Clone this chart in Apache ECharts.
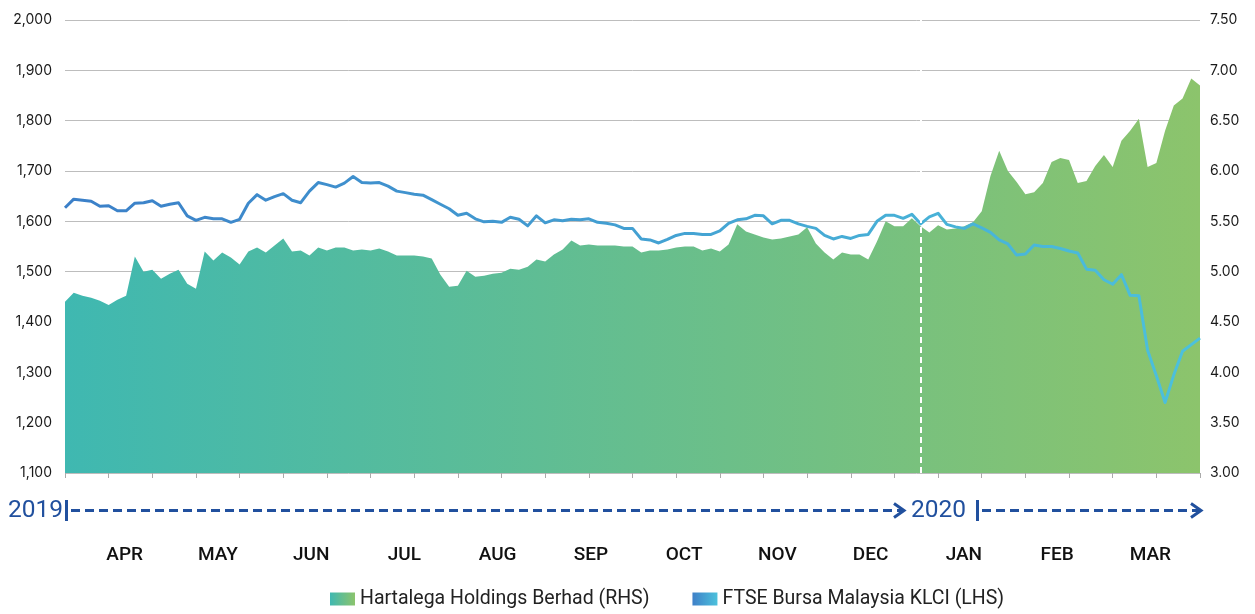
<!DOCTYPE html>
<html>
<head>
<meta charset="utf-8">
<script src="https://cdn.jsdelivr.net/npm/echarts@6/dist/echarts.min.js"></script>
<style>html,body{margin:0;padding:0;background:#fff}#c{width:1255px;height:614px}</style>
</head>
<body>
<div id="c"></div>
<script>
const months = ['APR','MAY','JUN','JUL','AUG','SEP','OCT','NOV','DEC','JAN','FEB','MAR'];
const years = ['2019','2020'];
const seriesNames = ['Hartalega Holdings Berhad (RHS)','FTSE Bursa Malaysia KLCI (LHS)'];

const klci = [
1627,1644,1642,1640,1630,1631,1621,1621,1636,1637,
1641,1630,1634,1637,1611,1602,1608,1605,1605,1598,
1604,1636,1653,1642,1649,1655,1642,1637,1660,1677,
1673,1668,1676,1689,1677,1676,1677,1670,1660,1657,
1654,1652,1643,1634,1625,1612,1616,1605,1599,1600,
1598,1608,1604,1591,1611,1597,1603,1601,1604,1603,
1605,1598,1596,1593,1586,1586,1565,1563,1557,1564,
1572,1576,1576,1574,1574,1581,1596,1603,1605,1612,
1611,1595,1602,1602,1595,1590,1586,1572,1565,1570,
1566,1572,1574,1600,1612,1612,1606,1614,1595,1609,
1616,1594,1589,1586,1595,1587,1578,1563,1555,1533,
1535,1553,1550,1550,1546,1541,1537,1505,1503,1484,
1475,1494,1453,1452,1344,1293,1240,1295,1342,1355,
1368
];

const hartalega = [
4.70,4.79,4.76,4.74,4.71,4.67,4.72,4.76,5.15,5.00,
5.02,4.93,4.98,5.02,4.88,4.83,5.20,5.11,5.19,5.14,
5.07,5.20,5.24,5.19,5.26,5.33,5.20,5.21,5.16,5.24,
5.21,5.24,5.24,5.21,5.22,5.21,5.23,5.20,5.16,5.16,
5.16,5.15,5.13,4.97,4.85,4.86,5.01,4.95,4.96,4.98,
4.99,5.03,5.02,5.05,5.12,5.10,5.17,5.22,5.31,5.26,
5.27,5.26,5.26,5.26,5.25,5.25,5.19,5.21,5.21,5.22,
5.24,5.25,5.25,5.21,5.23,5.20,5.27,5.47,5.40,5.37,
5.34,5.32,5.33,5.35,5.37,5.44,5.28,5.19,5.12,5.19,
5.17,5.17,5.12,5.30,5.50,5.45,5.45,5.53,5.45,5.39,
5.46,5.42,5.43,5.45,5.49,5.60,5.95,6.20,6.00,5.89,
5.77,5.79,5.88,6.09,6.13,6.11,5.88,5.90,6.05,6.16,
6.04,6.30,6.40,6.52,6.04,6.08,6.40,6.65,6.72,6.92,
6.85
];

const days = klci.map((_, i) => String(i));
const yearStartIndex = '98';

const blue = '#21509e';
const areaGrad = new echarts.graphic.LinearGradient(0, 0, 1, 0, [
  {offset: 0, color: '#3fb8b1'}, {offset: 1, color: '#8cc46c'}
]);
const lineGrad = new echarts.graphic.LinearGradient(0, 0, 1, 0, [
  {offset: 0, color: '#3b7fc8'}, {offset: 1, color: '#4cc1dc'}
]);
const legendAreaGrad = new echarts.graphic.LinearGradient(0, 0, 1, 0, [
  {offset: 0, color: '#3fb8b1'}, {offset: 1, color: '#8cc46c'}
]);
const legendLineGrad = new echarts.graphic.LinearGradient(0, 0, 1, 0, [
  {offset: 0, color: '#3f80c8'}, {offset: 1, color: '#4cc1dc'}
]);

const chart = echarts.init(document.getElementById('c'), null, {renderer: 'canvas'});
const option = {
  animation: false,
  backgroundColor: '#fff',
  grid: [
    {left: 65, right: 55, top: 20, bottom: 141},
    {left: 78, right: 58, top: 530, height: 6}
  ],
  xAxis: [
    {
      type: 'category', gridIndex: 0, data: days, boundaryGap: false,
      axisLine: {show: false},
      axisTick: {show: true, interval: 4, length: 5, lineStyle: {color: '#aaaaaa', width: 1}},
      axisLabel: {show: false},
      splitLine: {show: false}
    },
    {
      type: 'category', gridIndex: 1, data: months, boundaryGap: true,
      axisLine: {show: false}, axisTick: {show: false},
      axisLabel: {margin: 10, fontSize: 19, fontWeight: 500, fontFamily: 'Roboto', color: '#111'}
    }
  ],
  yAxis: [
    {
      type: 'value', gridIndex: 0, position: 'left', min: 1100, max: 2000, interval: 100,
      axisLine: {show: false}, axisTick: {show: false},
      axisLabel: {margin: 13, fontSize: 14, fontFamily: 'Inter', color: '#1a1a1a',
        formatter: v => v.toLocaleString('en-US')},
      splitLine: {show: true, lineStyle: {color: '#bdbdbd', width: 1}}
    },
    {
      type: 'value', gridIndex: 0, position: 'right', min: 3, max: 7.5, interval: 0.5,
      axisLine: {show: false}, axisTick: {show: false},
      axisLabel: {margin: 10, fontSize: 14, fontFamily: 'Inter', color: '#1a1a1a',
        formatter: v => v.toFixed(2)},
      splitLine: {show: false}
    },
    {type: 'value', gridIndex: 1, show: false, min: 0, max: 1}
  ],
  legend: {
    left: 330, top: 589, padding: 0, itemWidth: 25, itemHeight: 13, itemGap: 43, icon: 'rect',
    textStyle: {fontSize: 19.5, fontFamily: 'Roboto', color: '#222'},
    data: [
      {name: seriesNames[0], itemStyle: {color: legendAreaGrad}},
      {name: seriesNames[1], itemStyle: {color: legendLineGrad}}
    ]
  },
  series: [
    {
      name: seriesNames[0], type: 'line', xAxisIndex: 0, yAxisIndex: 1,
      data: hartalega, symbol: 'none', smooth: false,
      lineStyle: {width: 0},
      itemStyle: {color: areaGrad},
      areaStyle: {color: areaGrad, opacity: 1},
      markLine: {
        silent: true, symbol: 'none', label: {show: false},
        lineStyle: {color: '#ffffff', width: 2, type: [6, 4]},
        data: [{xAxis: yearStartIndex}]
      },
      z: 2
    },
    {
      name: seriesNames[1], type: 'line', xAxisIndex: 0, yAxisIndex: 0,
      data: klci, symbol: 'none', smooth: false,
      lineStyle: {width: 3, color: lineGrad, join: 'round'},
      itemStyle: {color: lineGrad},
      z: 3
    }
  ],
  graphic: [
    {type: 'text', x: 8, y: 511, style: {text: years[0], fontSize: 24.5, fontFamily: 'Roboto', fill: blue, verticalAlign: 'middle', align: 'left'}},
    {type: 'rect', shape: {x: 65, y: 500, width: 3, height: 21}, style: {fill: blue}},
    {type: 'line', shape: {x1: 71, y1: 510.5, x2: 902, y2: 510.5}, style: {stroke: blue, lineWidth: 3, lineDash: [9, 5]}},
    {type: 'polyline', shape: {points: [[894, 503.5], [904, 510.5], [894, 517.5]]}, style: {stroke: blue, lineWidth: 3, fill: null}},
    {type: 'text', x: 911, y: 511, style: {text: years[1], fontSize: 24.5, fontFamily: 'Roboto', fill: blue, verticalAlign: 'middle', align: 'left'}},
    {type: 'rect', shape: {x: 976, y: 500, width: 3, height: 21}, style: {fill: blue}},
    {type: 'line', shape: {x1: 982, y1: 510.5, x2: 1199, y2: 510.5}, style: {stroke: blue, lineWidth: 3, lineDash: [9, 5]}},
    {type: 'polyline', shape: {points: [[1191, 503.5], [1201, 510.5], [1191, 517.5]]}, style: {stroke: blue, lineWidth: 3, fill: null}}
  ]
};
chart.setOption(option);
</script>
</body>
</html>
